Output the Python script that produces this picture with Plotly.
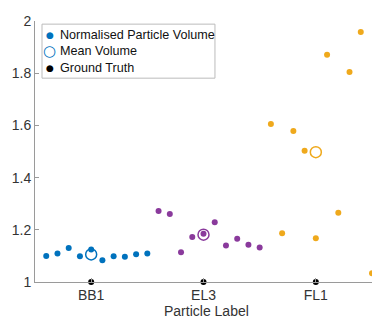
import plotly.graph_objects as go

categories = ["BB1", "EL3", "FL1"]
cat_pos = [1, 2, 3]
offsets = [-0.4, -0.3, -0.2, -0.1, 0.0, 0.1, 0.2, 0.3, 0.4, 0.5]
bb1 = [1.100, 1.109, 1.130, 1.099, 1.125, 1.083, 1.099, 1.097, 1.106, 1.109]
el3 = [1.272, 1.261, 1.114, 1.172, 1.185, 1.229, 1.140, 1.166, 1.143, 1.132]
fl1 = [1.605, 1.187, 1.579, 1.503, 1.168, 1.871, 1.265, 1.805, 1.958, 1.034]
ground_truth = [1.0, 1.0, 1.0]
colors = ["#0072BD", "#8A3A9C", "#EFA91C"]
series = [bb1, el3, fl1]
legend_labels = ["Normalised Particle Volume", "Mean Volume", "Ground Truth"]
x_title = "Particle Label"

FONT = "Arial, 'Liberation Sans', sans-serif"

fig = go.Figure()
for i, vals in enumerate(series):
    xs = [cat_pos[i] + o for o in offsets]
    fig.add_trace(go.Scatter(
        x=xs, y=vals, mode="markers",
        marker=dict(size=6, color=colors[i]),
        name=legend_labels[0], showlegend=False, cliponaxis=False))
for i, vals in enumerate(series):
    fig.add_trace(go.Scatter(
        x=[cat_pos[i]], y=[sum(vals) / len(vals)], mode="markers",
        marker=dict(size=11, color=colors[i], symbol="circle-open",
                    line=dict(width=1.5)),
        name=legend_labels[1], showlegend=False, cliponaxis=False))
fig.add_trace(go.Scatter(
    x=cat_pos, y=ground_truth, mode="markers",
    marker=dict(size=6, color="black"),
    name=legend_labels[2], showlegend=False, cliponaxis=False))

axis_common = dict(
    showline=True, linecolor="#9a9a9a", linewidth=1,
    ticks="inside", ticklen=4, tickcolor="#9a9a9a",
    showgrid=False, zeroline=False,
    tickfont=dict(family=FONT, size=14, color="#333333"),
)
fig.update_xaxes(range=[0.5, 3.5], tickvals=cat_pos, ticktext=categories,
                 ticklabelstandoff=0, **axis_common)
fig.update_yaxes(range=[1, 2], tickvals=[1, 1.2, 1.4, 1.6, 1.8, 2],
                 ticktext=["1", "1.2", "1.4", "1.6", "1.8", "2"], **axis_common)

# x-axis title as annotation placed at the bottom like the reference
fig.add_annotation(xref="paper", yref="paper", x=0.51, y=-0.113, text=x_title,
                   showarrow=False, xanchor="center", yanchor="middle",
                   font=dict(family=FONT, size=14, color="#333333"))

# custom legend box (compact, MATLAB style)
fig.add_shape(type="rect", xref="paper", yref="paper",
              x0=0.0208, x1=0.534, y0=0.781, y1=0.988,
              line=dict(color="#bbbbbb", width=1), fillcolor="white", layer="above")
legend_rows_y = [0.946, 0.885, 0.820]
legend_syms = [("●", 9, colors[0]), ("○", 15, colors[0]), ("●", 9, "black")]
for (sym, sz, col), lab, yy in zip(legend_syms, legend_labels, legend_rows_y):
    fig.add_annotation(xref="paper", yref="paper", x=0.0445, y=yy, text=sym,
                       showarrow=False, xanchor="center", yanchor="middle",
                       font=dict(family="DejaVu Sans", size=sz, color=col))
    fig.add_annotation(xref="paper", yref="paper", x=0.0683, y=yy, text=lab,
                       showarrow=False, xanchor="left", yanchor="middle",
                       font=dict(family=FONT, size=12.6, color="#111111"))

fig.update_layout(
    width=364, height=309,
    margin=dict(l=27, r=0, t=13, b=35, autoexpand=False),
    plot_bgcolor="white", paper_bgcolor="white",
    showlegend=False,
)
fig.write_html("out.html")
